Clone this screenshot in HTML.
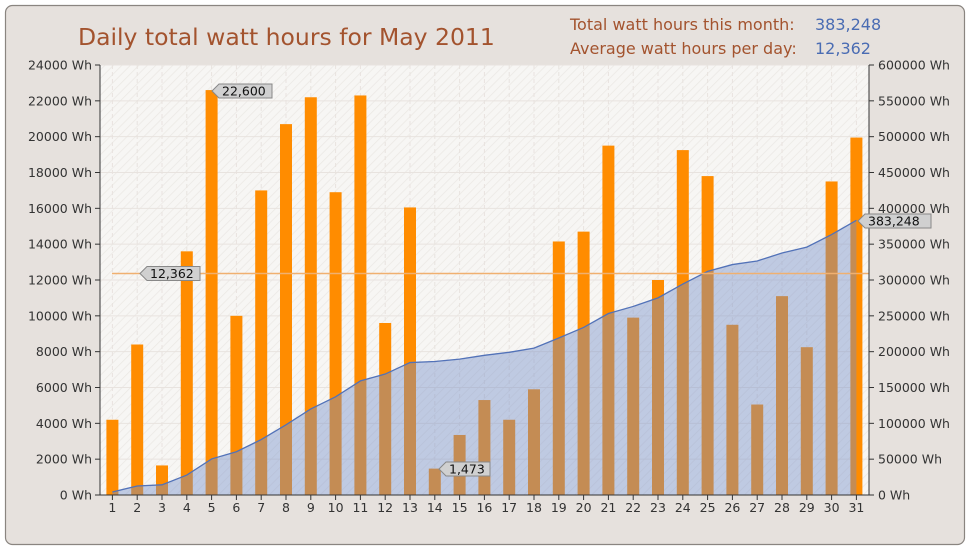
<!DOCTYPE html>
<html><head><meta charset="utf-8"><style>
body{margin:0;background:#fff;}
svg{display:block;font-family:"DejaVu Sans","Liberation Sans",sans-serif;}
</style></head><body>
<svg id="s" width="970" height="550" xmlns="http://www.w3.org/2000/svg">
<defs>
<pattern id="h" width="6" height="6" patternUnits="userSpaceOnUse" patternTransform="rotate(45)">
<rect width="6" height="6" fill="#f7f6f4"/><line x1="0" y1="0" x2="0" y2="6" stroke="#ebe8e4" stroke-width="1.5"/>
</pattern>
</defs>
<rect x="5.5" y="5.5" width="959" height="539" rx="7" fill="#e6e1dd" stroke="#8a8580" stroke-width="1.2"/>
<rect x="100" y="65" width="769" height="430" fill="url(#h)"/>
<text x="78" y="45" font-size="23.5" fill="#a3532e">Daily total watt hours for May 2011</text>
<text x="570" y="30" font-size="16" fill="#a3532e">Total watt hours this month:</text>
<text x="815" y="30" font-size="16" fill="#4a6cb3">383,248</text>
<text x="570" y="54" font-size="16" fill="#a3532e">Average watt hours per day:</text>
<text x="815" y="54" font-size="16" fill="#4a6cb3">12,362</text>
<g id="g"></g>
</svg>
<script>
var d=[4200,8400,1650,13600,22600,10000,17000,20700,22200,16900,22300,9600,16050,1473,3350,5300,4200,5900,14150,14700,19500,9900,12000,19250,17800,9500,5050,11100,8250,17500,19950];
var tot=d.reduce((a,b)=>a+b,0);var f=383248/tot;
var s='',L=100,T=65,B=495,H=430,W=24.8;
function yl(v){return B-v*H/24000}function yr(v){return B-v*H/600000}
for(var i=0;i<=12;i++){var y=yl(i*2000);
 s+='<line x1="100" x2="869" y1="'+y+'" y2="'+y+'" stroke="#e8e3df" stroke-width="1"/>';
 s+='<line x1="95" x2="100" y1="'+y+'" y2="'+y+'" stroke="#333"/>';
 s+='<text x="92" y="'+(y+4.5)+'" font-size="12.5" text-anchor="end" fill="#333">'+(i*2000)+' Wh</text>';
 s+='<line x1="869" x2="874" y1="'+y+'" y2="'+y+'" stroke="#333"/>';
 s+='<text x="878" y="'+(y+4.5)+'" font-size="12.5" fill="#333">'+(i*50000)+' Wh</text>';}
for(var i=0;i<31;i++){var x=L+W*(i+.5);
 s+='<line x1="'+x+'" x2="'+x+'" y1="65" y2="495" stroke="#e8e3df" stroke-dasharray="4,3"/>';}
var cum=0,pts=[];
for(var i=0;i<31;i++){var x=L+W*(i+.5);
 s+='<rect x="'+(x-6)+'" y="'+yl(d[i])+'" width="12" height="'+(B-yl(d[i]))+'" fill="#ff8c00"/>';
 cum+=d[i]*f;pts.push([x,yr(cum)]);
 s+='<line x1="'+x+'" x2="'+x+'" y1="495" y2="500" stroke="#333"/>';
 s+='<text x="'+x+'" y="512" font-size="12.5" text-anchor="middle" fill="#333">'+(i+1)+'</text>';}
var p=pts.map(q=>q[0]+','+q[1]).join(' ');
s+='<polygon points="'+pts[0][0]+',495 '+p+' '+pts[30][0]+',495" fill="rgba(115,140,200,0.42)"/>';
s+='<polyline points="'+p+'" fill="none" stroke="#5272b8" stroke-width="1.3"/>';
var ya=yl(12362);
s+='<line x1="112" x2="869" y1="'+ya+'" y2="'+ya+'" stroke="#f0b070" stroke-width="1.5"/>';
s+='<line x1="100" x2="100" y1="65" y2="495" stroke="#333"/><line x1="869" x2="869" y1="65" y2="495" stroke="#333"/><line x1="100" x2="869" y1="495" y2="495" stroke="#333"/>';
function call(x,y,t,w){s+='<path d="M'+x+','+y+' l7,-7 h'+w+' v14 h-'+w+' z" fill="#d0d0d0" stroke="#888"/>';
 s+='<text x="'+(x+10)+'" y="'+(y+4.5)+'" font-size="12.5" fill="#111">'+t+'</text>';}
call(212,91,'22,600',53);call(140,ya,'12,362',53);call(439,469,'1,473',44);call(858,221,'383,248',66);
document.getElementById('g').innerHTML=s;
</script>
</body></html>
